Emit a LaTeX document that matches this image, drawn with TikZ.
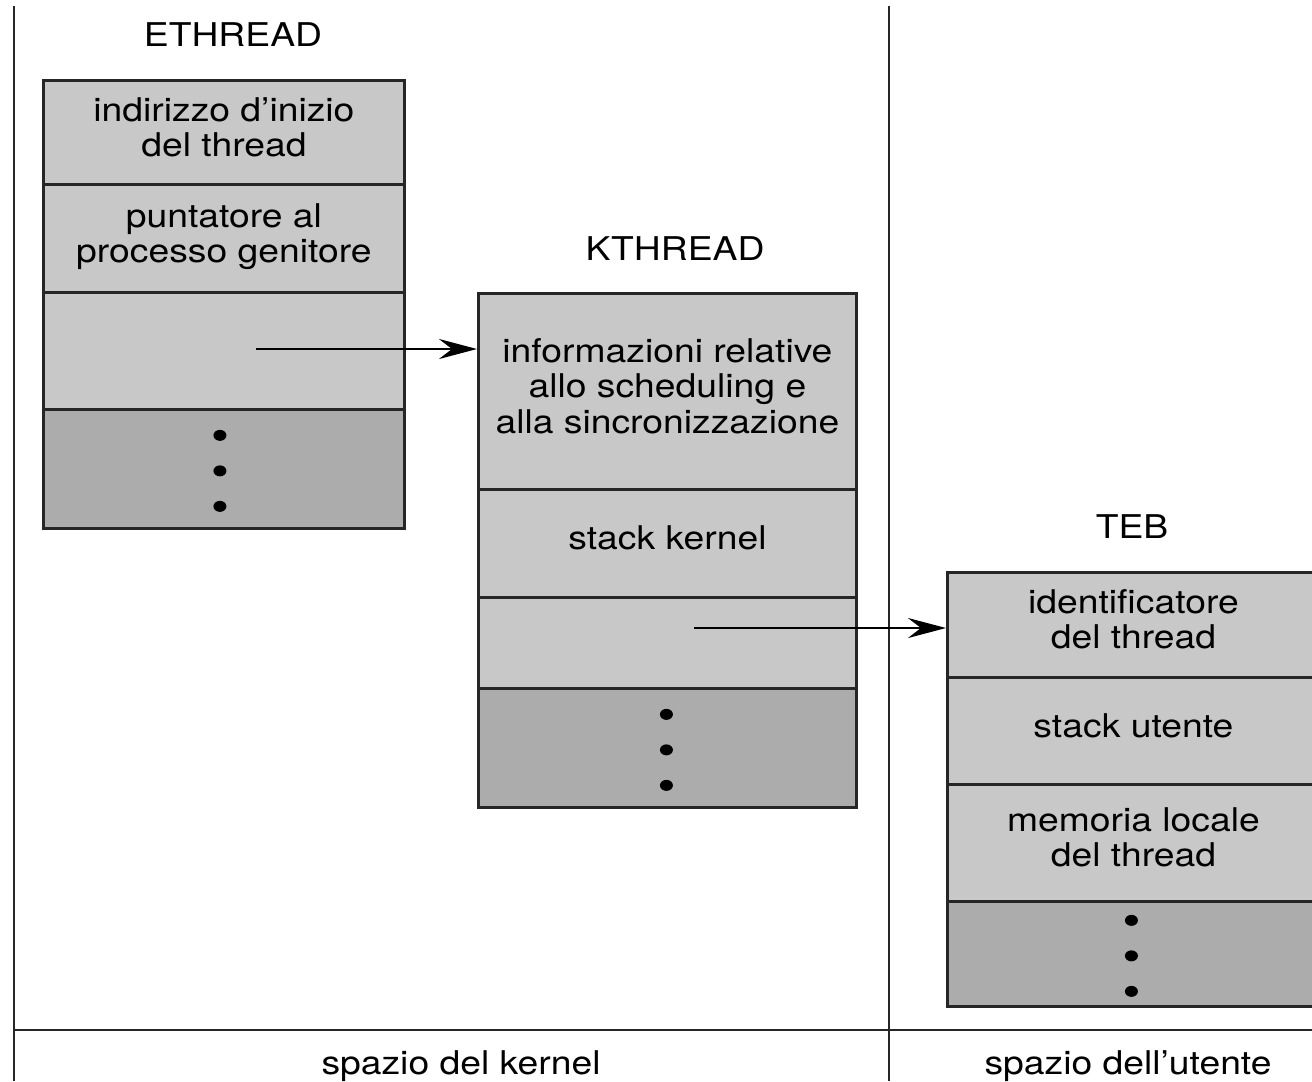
\documentclass[tikz,border=0pt]{standalone}
\usepackage{fontspec}
\setmainfont[FakeStretch=1.14]{TeX Gyre Heros}
\usepackage{xcolor}
\usepackage{tikz}
\usetikzlibrary{arrows.meta}

\definecolor{cella}{HTML}{C8C8C8}
\definecolor{cellascura}{HTML}{ACACAC}
\definecolor{bordo}{HTML}{262626}

\begin{document}
\begin{tikzpicture}[x=0.01cm,y=-0.01cm,font=\fontsize{9.3}{10}\selectfont]
				\useasboundingbox (0,0) rectangle (1312,1081);
				\clip (0,0) rectangle (1312,1081);
				
				% spazio del kernel / spazio dell'utente
				\coordinate (L1) at (14,6);    \coordinate (L2) at (14,1081);
				\coordinate (M1) at (889,6);   \coordinate (M2) at (889,1081);
				\coordinate (H1) at (14,1030); \coordinate (H2) at (1312,1030);
				\draw [bordo, line width=0.75pt] (L1) -- (L2) (M1) -- (M2) (H1) -- (H2);
				\node [anchor=base] (kern) at (461,1074) {spazio del kernel};
				\node [anchor=base] (uten) at (1128,1074) {spazio dell’utente};
				
				% titoli
				\node (eth) at (233,35) {ETHREAD};
				\node (kth) at (675,249) {KTHREAD};
				\node (teb) at (1132,527) {TEB};
				
				\begin{scope}[every node/.style={draw=bordo,line width=0.75pt,fill=cella,
						anchor=north west,align=center,inner sep=0pt,text depth=0.11cm}]
					\node [minimum width=3.61cm, minimum height=1.04cm] (E1) at (42,79) {indirizzo d’inizio\\del thread};
					\node [minimum width=3.61cm, minimum height=1.08cm] (E2) at (42,183) {puntatore al\\processo genitore};
					\node [minimum width=3.61cm, minimum height=1.17cm] (E3) at (42,291) {};
					\node [minimum width=3.61cm, minimum height=1.19cm, fill=cellascura] (E4) at (42,408) {};
					
					\node [minimum width=3.78cm, minimum height=1.96cm] (K1) at (477,292) {informazioni relative\\allo scheduling e\\alla sincronizzazione};
					\node [minimum width=3.78cm, minimum height=1.08cm] (K2) at (477,488) {stack kernel};
					\node [minimum width=3.78cm, minimum height=0.91cm] (K3) at (477,596) {};
					\node [minimum width=3.78cm, minimum height=1.19cm, fill=cellascura] (K4) at (477,687) {};
					
					\node [minimum width=3.72cm, minimum height=1.05cm] (T1) at (946,571) {identificatore\\del thread};
					\node [minimum width=3.72cm, minimum height=1.07cm] (T2) at (946,676) {stack utente};
					\node [minimum width=3.72cm, minimum height=1.17cm] (T3) at (946,783) {memoria locale\\del thread};
					\node [minimum width=3.72cm, minimum height=1.05cm, fill=cellascura] (T4) at (946,900) {};
				\end{scope}
				
				% puntini
				\foreach \cel/\dx in {E4/-4,K4/-1,T4/-2}
				\foreach \dy in {-35.5,0,35.5}
				\fill ([xshift=\dx*0.01cm,yshift=-0.02cm-\dy*0.01cm]\cel.center) circle [x radius=0.065cm, y radius=0.055cm];
				
				\begin{scope}[>={Stealth[length=3.8mm,width=2mm,inset=1.3mm]}, line width=0.8pt]
					\coordinate (P1) at (256,349);
					\coordinate (P2) at (694,628);
					\draw [->] (P1) -- (P1 -| K1.west);
					\draw [->] (P2) -- (P2 -| T1.west);
				\end{scope}
			\end{tikzpicture}
\end{document}
